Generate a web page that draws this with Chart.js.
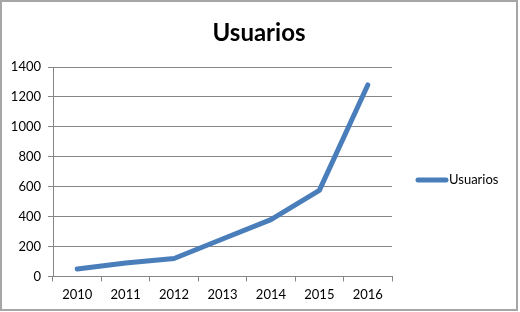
<!DOCTYPE html>
<html>
<head>
<meta charset="utf-8">
<script src="https://cdn.jsdelivr.net/npm/chart.js@4/dist/chart.umd.min.js"></script>
<style>
html,body{margin:0;padding:0;background:#fff;}
canvas{display:block;}
</style>
</head>
<body>
<canvas id="c" width="520" height="312"></canvas>
<script>
const categories = ['2010','2011','2012','2013','2014','2015','2016'];
const usuarios = [50, 90, 120, 250, 380, 575, 1280];
const seriesLabel = 'Usuarios';
const chartTitle = 'Usuarios';

const FONT = 'Lato, "Open Sans", sans-serif';

const framePlugin = {
  id: 'frame',
  beforeDraw(chart) {
    const ctx = chart.ctx;
    ctx.save();
    ctx.fillStyle = '#fff';
    ctx.fillRect(0, 0, chart.width, chart.height);
    ctx.strokeStyle = '#a6a6a6';
    ctx.lineWidth = 2;
    ctx.strokeRect(1, 1, 516, 309);
    ctx.restore();
  },
  afterDraw(chart) {
    const ctx = chart.ctx;
    const ds = chart.data.datasets[0];
    ctx.save();
    // title
    ctx.fillStyle = '#000';
    ctx.font = 'bold 24px ' + FONT;
    ctx.textAlign = 'center';
    ctx.textBaseline = 'middle';
    ctx.fillText(chartTitle, 259, 33);
    // legend
    const y = 180;
    ctx.strokeStyle = ds.borderColor;
    ctx.lineWidth = 5;
    ctx.lineCap = 'round';
    ctx.beginPath();
    ctx.moveTo(418, y);
    ctx.lineTo(446, y);
    ctx.stroke();
    ctx.font = '13px ' + FONT;
    ctx.textAlign = 'left';
    ctx.fillText(ds.label, 449, y);
    ctx.restore();
  }
};

new Chart(document.getElementById('c'), {
  type: 'line',
  data: {
    labels: categories,
    datasets: [{
      label: seriesLabel,
      data: usuarios,
      borderColor: '#4a7ebb',
      backgroundColor: '#4a7ebb',
      borderWidth: 5,
      borderCapStyle: 'round',
      borderJoinStyle: 'round',
      pointRadius: 0,
      tension: 0
    }]
  },
  options: {
    responsive: false,
    animation: false,
    devicePixelRatio: 1,
    layout: { padding: { left: 5, right: 128, top: 67, bottom: 3 } },
    plugins: {
      legend: { display: false },
      tooltip: { enabled: false },
      title: { display: false }
    },
    scales: {
      x: {
        offset: true,
        grid: {
          offset: true,
          drawOnChartArea: false,
          drawTicks: true,
          tickLength: 5,
          color: '#868686'
        },
        border: { display: true, color: '#868686', width: 1 },
        ticks: { color: '#000', font: { family: FONT, size: 13 }, padding: 6, maxRotation: 0 }
      },
      y: {
        min: 0,
        max: 1400,
        afterFit(scale) { scale.width = 48; },
        grid: {
          drawOnChartArea: true,
          drawTicks: true,
          tickLength: 5,
          color: '#868686'
        },
        border: { display: true, color: '#868686', width: 1 },
        ticks: {
          stepSize: 200,
          color: '#000',
          font: { family: FONT, size: 13 },
          padding: 7,
          callback: (v) => String(v)
        }
      }
    }
  },
  plugins: [framePlugin]
});
</script>
</body>
</html>
